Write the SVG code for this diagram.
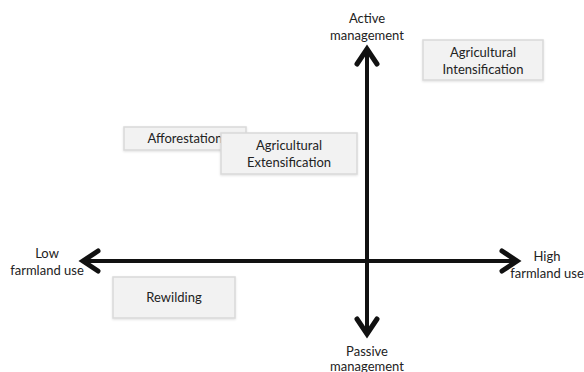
<svg xmlns="http://www.w3.org/2000/svg" width="584" height="372" viewBox="0 0 584 372">
<defs>
<filter id="sh" x="-10%" y="-10%" width="120%" height="130%">
<feDropShadow dx="0" dy="1" stdDeviation="1.2" flood-color="#000" flood-opacity="0.12"/>
</filter>
</defs>
<style>
.box{fill:#f2f2f2;stroke:#d9d9d9;stroke-width:1.5;filter:url(#sh)}
.t{font-family:Lato,"Open Sans","Liberation Sans",sans-serif;font-size:13px;fill:#222;text-anchor:middle}
.ax{stroke:#111;stroke-width:4;fill:none;stroke-linecap:butt}
.hd{stroke:#111;stroke-width:5;fill:none;stroke-linejoin:miter;stroke-linecap:round}
</style>
<rect width="584" height="372" fill="#fff"/>
<g id="connectors">
<line class="ax" x1="367" y1="50" x2="367" y2="333"/>
<polyline class="hd" points="357,64 367,49 377,64"/>
<polyline class="hd" points="357,319 367,334 377,319"/>
<line class="ax" x1="84" y1="261" x2="516" y2="261"/>
<polyline class="hd" points="98,251 83,261 98,271"/>
<polyline class="hd" points="502,251 517,261 502,271"/>
</g>
<g id="active"><text class="t" x="367" y="23">Active</text><text class="t" x="367" y="40">management</text></g>
<g id="passive"><text class="t" x="367" y="356">Passive</text><text class="t" x="367" y="371">management</text></g>
<g id="low"><text class="t" x="47" y="258">Low</text><text class="t" x="47" y="275">farmland use</text></g>
<g id="high"><text class="t" x="547" y="261">High</text><text class="t" x="547" y="278">farmland use</text></g>
<g id="intensification"><rect class="box" x="423" y="40" width="120" height="40"/><text class="t" x="483" y="57">Agricultural</text><text class="t" x="483" y="74">Intensification</text></g>
<g id="afforestation"><rect class="box" x="124" y="127" width="122" height="23"/><text class="t" x="185" y="143">Afforestation</text></g>
<g id="extensification"><rect class="box" x="221" y="133" width="136" height="41"/><text class="t" x="289" y="150">Agricultural</text><text class="t" x="289" y="167">Extensification</text></g>
<g id="rewilding"><rect class="box" x="113" y="277" width="122" height="41"/><text class="t" x="174" y="302">Rewilding</text></g>
</svg>
